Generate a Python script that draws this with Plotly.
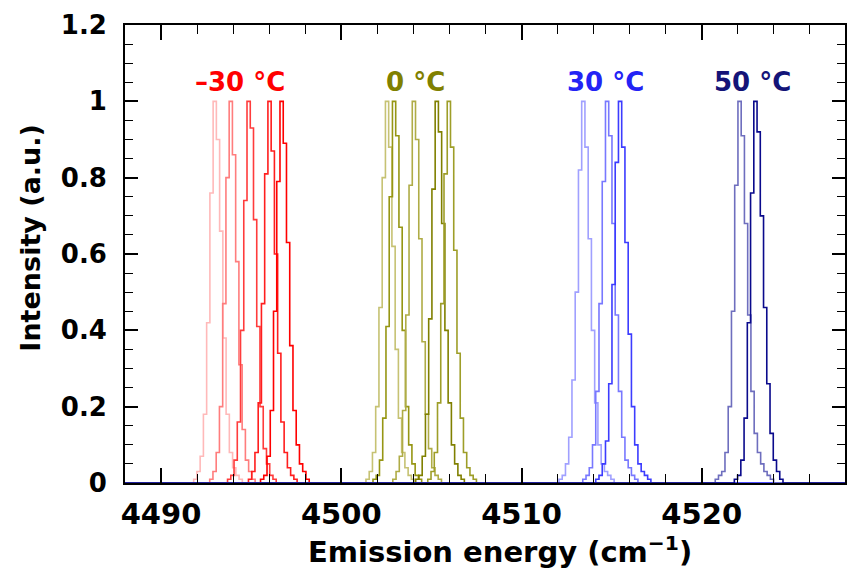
import plotly.graph_objects as go

# ---------------- data ----------------
E_MIN = 4488.0
E_MAX = 4528.0
ENERGY_STEP = 0.18

GROUP_LABELS = ["\u201330 \u00b0C", "0 \u00b0C", "30 \u00b0C", "50 \u00b0C"]
GROUP_LABEL_X = [4494.4, 4504.1, 4514.65, 4522.8]
GROUP_LABEL_Y = 1.05

# start energies (cm^-1) of each measured spectrum window
START_M30 = [4491.81, 4492.52, 4493.69, 4494.85, 4495.52]
START_0 = [4501.37, 4501.76, 4502.86, 4504.13, 4504.80]
START_30 = [4512.08, 4513.40, 4514.12]
START_50 = [4520.75, 4521.63]

# normalised intensities
INT_M30 = [
    [0.01, 0.03, 0.07, 0.18, 0.42, 0.76, 1.00, 0.90, 0.66, 0.38, 0.18, 0.08, 0.04, 0.02, 0.01, 0.0],
    [0.0, 0.01, 0.03, 0.08, 0.20, 0.47, 0.80, 1.00, 0.86, 0.58, 0.31, 0.14, 0.06, 0.03, 0.01, 0.0],
    [0.01, 0.02, 0.06, 0.16, 0.40, 0.74, 1.00, 0.93, 0.69, 0.41, 0.20, 0.09, 0.05, 0.02, 0.01, 0.0],
    [0.01, 0.03, 0.08, 0.21, 0.47, 0.81, 1.00, 0.87, 0.60, 0.34, 0.16, 0.08, 0.04, 0.02, 0.01, 0.0],
    [0.01, 0.02, 0.07, 0.19, 0.45, 0.79, 1.00, 0.89, 0.63, 0.36, 0.19, 0.10, 0.05, 0.03, 0.01, 0.0],
]
INT_0 = [
    [0.01, 0.03, 0.08, 0.20, 0.46, 0.80, 1.00, 0.88, 0.62, 0.35, 0.17, 0.08, 0.04, 0.02, 0.01, 0.0],
    [0.01, 0.02, 0.06, 0.17, 0.41, 0.75, 1.00, 0.91, 0.67, 0.40, 0.20, 0.10, 0.05, 0.02, 0.01, 0.0],
    [0.01, 0.03, 0.07, 0.19, 0.44, 0.78, 1.00, 0.90, 0.64, 0.37, 0.18, 0.09, 0.04, 0.02, 0.01, 0.0],
    [0.01, 0.02, 0.07, 0.18, 0.43, 0.77, 1.00, 0.92, 0.68, 0.40, 0.21, 0.10, 0.05, 0.02, 0.01, 0.0],
    [0.01, 0.03, 0.08, 0.21, 0.47, 0.81, 1.00, 0.88, 0.61, 0.34, 0.17, 0.08, 0.04, 0.02, 0.01, 0.0],
]
INT_30 = [
    [0.01, 0.02, 0.05, 0.12, 0.27, 0.50, 0.82, 1.00, 0.88, 0.64, 0.40, 0.21, 0.10, 0.05, 0.03, 0.02, 0.01, 0.0],
    [0.01, 0.02, 0.04, 0.10, 0.24, 0.47, 0.79, 1.00, 0.91, 0.68, 0.44, 0.24, 0.12, 0.06, 0.04, 0.02, 0.01, 0.0],
    [0.01, 0.02, 0.05, 0.11, 0.26, 0.52, 0.84, 1.00, 0.88, 0.63, 0.39, 0.20, 0.10, 0.05, 0.03, 0.02, 0.01, 0.0],
]
INT_50 = [
    [0.01, 0.02, 0.03, 0.08, 0.20, 0.45, 0.78, 1.00, 0.91, 0.68, 0.44, 0.24, 0.13, 0.08, 0.05, 0.03, 0.02, 0.01, 0.0],
    [0.0, 0.01, 0.02, 0.06, 0.17, 0.42, 0.76, 1.00, 0.92, 0.70, 0.46, 0.26, 0.13, 0.06, 0.03, 0.01, 0.0],
]

X_TICKS = [4490, 4500, 4510, 4520]
Y_TICKS = [0, 0.2, 0.4, 0.6, 0.8, 1, 1.2]
Y_TICK_TEXT = ["0", "0.2", "0.4", "0.6", "0.8", "1", "1.2"]

# ---------------- styles ----------------
COL_M30 = ["rgb(255,185,185)", "rgb(255,125,125)", "rgb(255,60,60)", "rgb(255,30,30)", "rgb(255,0,0)"]
COL_0 = ["rgb(198,194,115)", "rgb(150,150,20)", "rgb(175,172,70)", "rgb(128,128,0)", "rgb(158,158,40)"]
COL_30 = ["rgb(160,160,255)", "rgb(120,120,255)", "rgb(60,60,255)"]
COL_50 = ["rgb(110,110,190)", "rgb(10,10,140)"]
LABEL_COLORS = ["rgb(255,0,0)", "rgb(128,128,0)", "rgb(35,35,245)", "rgb(20,20,120)"]

FONT = "DejaVu Sans"

fig = go.Figure()


def add_group(starts, ints, colors):
    for s, vals, c in zip(starts, ints, colors):
        xs = [E_MIN] + [s + i * ENERGY_STEP for i in range(len(vals))] + [E_MAX]
        ys = [0.0] + list(vals) + [0.0]
        fig.add_trace(go.Scatter(x=xs, y=ys, mode="lines", line=dict(color=c, width=1.6, shape="hv"),
                                 showlegend=False, hoverinfo="skip"))


add_group(START_M30, INT_M30, COL_M30)
add_group(START_0, INT_0, COL_0)
add_group(START_30, INT_30, COL_30)
add_group(START_50, INT_50, COL_50)

for lab, lx, col in zip(GROUP_LABELS, GROUP_LABEL_X, LABEL_COLORS):
    fig.add_annotation(x=lx, y=GROUP_LABEL_Y, text=lab, showarrow=False,
                       font=dict(family=FONT, size=26, color=col, weight="bold"),
                       xanchor="center", yanchor="middle")

# axis titles as annotations
fig.add_annotation(xref="paper", yref="paper", x=0.5215, y=-0.146, text="Emission energy (cm<sup>\u22121</sup>)",
                   showarrow=False, xanchor="center", yanchor="middle",
                   font=dict(family=FONT, size=29, color="black", weight="bold"))
fig.add_annotation(xref="paper", yref="paper", x=-0.131, y=0.535, text="Intensity (a.u.)", textangle=-90,
                   showarrow=False, xanchor="center", yanchor="middle",
                   font=dict(family=FONT, size=27, color="black", weight="bold"))

fig.update_layout(
    width=847, height=571,
    margin=dict(l=125, r=0, t=25, b=88),
    plot_bgcolor="white", paper_bgcolor="white",
    xaxis=dict(range=[E_MIN, 4527.95], tickvals=X_TICKS, ticks="inside", ticklen=15, tickwidth=1.5,
               tickcolor="black", showline=True, linecolor="black", linewidth=1.8, mirror="allticks",
               showgrid=False, zeroline=False, ticklabelstandoff=4,
               tickfont=dict(family=FONT, size=29, color="black", weight="bold"),
               minor=dict(dtick=2, ticks="inside", ticklen=9, tickwidth=1.3, tickcolor="black", showgrid=False)),
    yaxis=dict(range=[0, 1.2], tickvals=Y_TICKS, ticktext=Y_TICK_TEXT, ticks="inside", ticklen=13, tickwidth=1.5,
               tickcolor="black", showline=True, linecolor="black", linewidth=1.8, mirror="allticks",
               showgrid=False, zeroline=False, ticklabelstandoff=11,
               tickfont=dict(family=FONT, size=26, color="black", weight="bold"),
               minor=dict(dtick=0.05, ticks="inside", ticklen=8, tickwidth=1.3, tickcolor="black", showgrid=False)),
)

fig.write_html("out.html")
